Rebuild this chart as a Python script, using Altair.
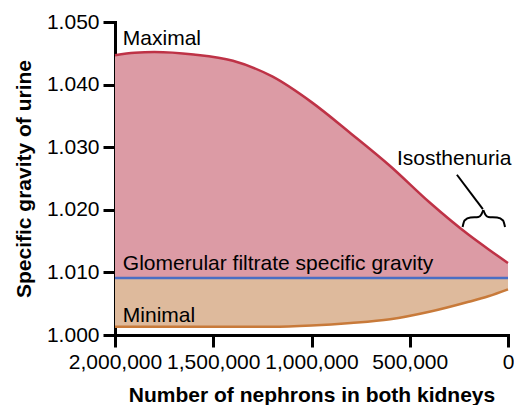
import altair as alt
import pandas as pd

# ---- data ----
nephrons = [2000000, 1900000, 1800000, 1600000, 1400000, 1200000, 1000000,
            800000, 600000, 400000, 200000, 100000, 0]
maximal = [1.0447, 1.0451, 1.0452, 1.0448, 1.0438, 1.0413, 1.0372,
           1.0322, 1.0270, 1.0212, 1.0160, 1.0137, 1.0115]
minimal = [1.0013, 1.0013, 1.0013, 1.0013, 1.0013, 1.0013, 1.0015,
           1.0019, 1.0025, 1.0037, 1.0053, 1.0062, 1.0073]
glomerular = 1.0091

x_ticks = [0, 500000, 1000000, 1500000, 2000000]
y_ticks = [1.000, 1.010, 1.020, 1.030, 1.040, 1.050]

# annotation texts and their anchor points (data coords)
label_text = ["Maximal", "Glomerular filtrate specific gravity", "Minimal", "Isosthenuria"]
label_n = [1960000, 1960000, 1960000, 565000]
label_v = [1.0463, 1.0104, 1.0021, 1.0272]

# brace under "Isosthenuria" (two halves) and its pointer line
brace_n = [231150, 221100, 190950, 150750, 135675, 125625,
           125625, 115575, 100500, 55275, 25125, 15075]
brace_v = [1.01725, 1.01829, 1.01877, 1.01885, 1.01925, 1.01997,
           1.01997, 1.01925, 1.01885, 1.01877, 1.01829, 1.01725]
brace_side = ["L"] * 6 + ["R"] * 6
pointer_n = [260000, 128000]
pointer_v = [1.0256, 1.0201]

FONT = "Liberation Sans"

df = pd.DataFrame({"n": nephrons, "max": maximal, "min": minimal,
                   "g": [glomerular] * len(nephrons)})
labels = pd.DataFrame({"t": label_text, "n": label_n, "v": label_v})
brace = pd.DataFrame({"n": brace_n, "v": brace_v, "side": brace_side})
pointer = pd.DataFrame({"n": pointer_n, "v": pointer_v})

xs = alt.Scale(domain=[0, 2000000], reverse=True, nice=False, zero=False)
ys = alt.Scale(domain=[1.000, 1.050], nice=False, zero=False)

x_axis = alt.Axis(
    values=x_ticks, labelExpr="format(datum.value, ',d')",
    title="Number of nephrons in both kidneys",
    labelFlush=False, labelPadding=4, titlePadding=12)
y_axis = alt.Axis(
    values=y_ticks, labelExpr="format(datum.value, '.3f')",
    title="Specific gravity of urine", labelPadding=4, titlePadding=12)


def X(field="n"):
    return alt.X(f"{field}:Q", scale=xs, axis=x_axis)


def Y(field):
    return alt.Y(f"{field}:Q", scale=ys, axis=y_axis)


base = alt.Chart(df)

red_area = base.mark_area(color="#DC9BA5", interpolate="monotone", opacity=1).encode(
    x=X(), y=Y("max"), y2="g:Q")
tan_area = base.mark_area(color="#DEBA9C", interpolate="monotone", opacity=1).encode(
    x=X(), y=Y("min"), y2="g:Q")
red_line = base.mark_line(color="#BE3246", strokeWidth=2.5, interpolate="monotone").encode(
    x=X(), y=Y("max"))
min_line = base.mark_line(color="#C87A3A", strokeWidth=2.5, interpolate="monotone").encode(
    x=X(), y=Y("min"))
blue_line = base.mark_line(color="#4A6EC4", strokeWidth=2.5).encode(
    x=X(), y=Y("g"))

text = alt.Chart(labels).mark_text(
    align="left", baseline="alphabetic", font=FONT, fontSize=21, color="black").encode(
    x=X(), y=Y("v"), text="t:N")

brace_line = alt.Chart(brace).mark_line(
    color="black", strokeWidth=2, interpolate="monotone").encode(
    x=X(), y=Y("v"), detail="side:N")
pointer_line = alt.Chart(pointer).mark_line(color="black", strokeWidth=2).encode(
    x=X(), y=Y("v"))

chart = alt.layer(
    red_area, tan_area, red_line, min_line, blue_line, text, brace_line, pointer_line
).properties(
    width=393, height=313,
    autosize=alt.AutoSizeParams(type="none"),
    padding={"left": 107, "top": 14, "right": 6, "bottom": 70},
).configure_view(stroke=None).configure_axis(
    grid=False, domainColor="black", domainWidth=3, tickColor="black", tickWidth=3,
    tickSize=12, labelFont=FONT, labelFontSize=21, labelColor="black",
    titleFont=FONT, titleFontSize=21, titleFontWeight="bold", titleColor="black",
    domainCap="square",
)

chart.save("out.html", embed_options={"renderer": "svg", "actions": False})
